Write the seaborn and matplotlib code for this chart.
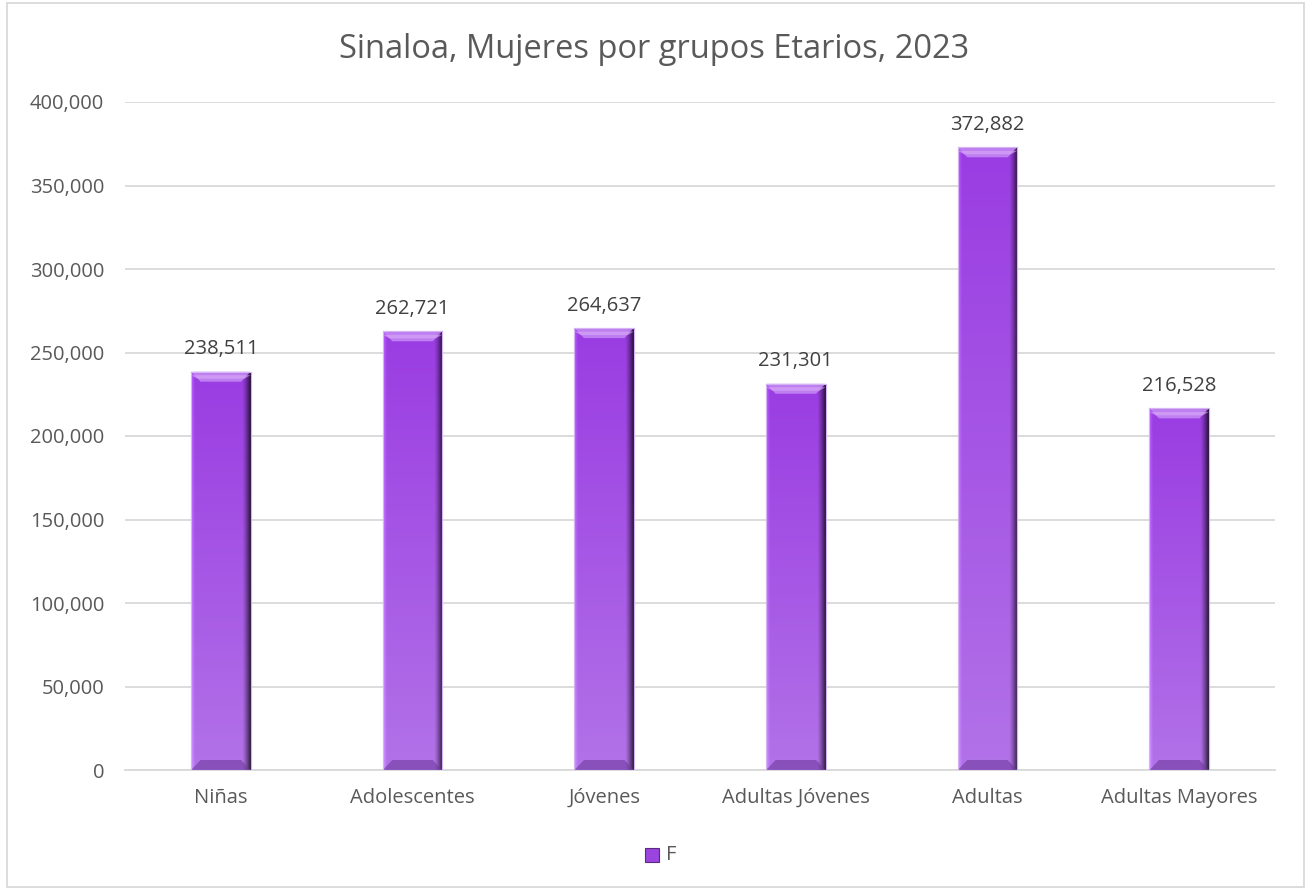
import numpy as np
import pandas as pd
import matplotlib
matplotlib.use('Agg')
import matplotlib.pyplot as plt
import seaborn as sns
from matplotlib.patches import Polygon, Rectangle

# Data
grupos = ['Niñas', 'Adolescentes', 'Jóvenes', 'Adultas Jóvenes', 'Adultas', 'Adultas Mayores']
mujeres = [238511, 262721, 264637, 231301, 372882, 216528]
serie = 'F'

df = pd.DataFrame({'grupo': grupos, 'valor': mujeres})

sns.set_theme(style='white')
plt.rcParams['font.family'] = ['Open Sans', 'DejaVu Sans']

W, H = 1309, 890
fig = plt.figure(figsize=(W / 100, H / 100), dpi=100)
ax = fig.add_axes([125 / W, 1 - 770 / H, 1150 / W, 668 / H])

sns.barplot(data=df, x='grupo', y='valor', color='#A24BE5', width=0.31,
            saturation=1, ax=ax, zorder=2, edgecolor='#D4B4F2', linewidth=0.8)

ax.set_ylim(0, 400000)
ax.set_xlim(-0.5, len(grupos) - 0.5)
ax.set_yticks(np.arange(0, 400001, 50000))
ax.yaxis.set_major_formatter(matplotlib.ticker.FuncFormatter(lambda v, p: f'{int(v):,}'))
ax.grid(axis='y', color='#D9D9D9', linewidth=1.3, zorder=0)
ax.set_axisbelow(True)
for s in ['left', 'right', 'top']:
    ax.spines[s].set_visible(False)
ax.spines['bottom'].set_color('#D9D9D9')
ax.spines['bottom'].set_linewidth(1.3)
ax.set_xlabel('')
ax.set_ylabel('')
ax.tick_params(axis='both', length=0, labelsize=14.5, colors='#595959')
ax.tick_params(axis='y', pad=15)
ax.tick_params(axis='x', pad=13)

# bevel look on each bar
px_y = 400000 / 668.0
top_c = np.array([0x9A, 0x3C, 0xE2]) / 255
bot_c = np.array([0xB2, 0x72, 0xE8]) / 255
for p in list(ax.patches):
    x0, w, h = p.get_x(), p.get_width(), p.get_height()
    rows, cols = 200, 60
    t = np.linspace(0, 1, rows)[:, None, None]
    img = top_c * (1 - t) + bot_c * t
    img = np.repeat(img, cols, axis=1)
    u = np.linspace(0, 1, cols)
    dark = np.clip((u - 0.86) / 0.14, 0, 1) ** 1.3 * 0.72
    light = np.clip((0.06 - u) / 0.06, 0, 1) * 0.12
    img = img * (1 - dark)[None, :, None] + light[None, :, None]
    img = np.clip(img, 0, 1)
    im = ax.imshow(img, extent=[x0, x0 + w, 0, h], aspect='auto', zorder=3,
                   interpolation='bilinear', origin='upper')
    im.set_clip_path(p)
    dx = w * 0.16
    dy = 10 * px_y
    ax.add_patch(Polygon([(x0, h), (x0 + w, h), (x0 + w - dx, h - dy), (x0 + dx, h - dy)],
                         closed=True, facecolor='#C890F4', alpha=0.8, edgecolor='none', zorder=4))
    ax.add_patch(Polygon([(x0, h - 0.35 * dy), (x0 + w, h - 0.35 * dy), (x0 + w - 0.65 * dx, h - 0.7 * dy),
                          (x0 + 0.65 * dx, h - 0.7 * dy)],
                         closed=True, facecolor='#D9ACF8', alpha=0.6, edgecolor='none', zorder=4))
    ax.add_patch(Polygon([(x0, 0), (x0 + w, 0), (x0 + w - dx, dy), (x0 + dx, dy)],
                         closed=True, facecolor='#6E3A9E', alpha=0.6, edgecolor='none', zorder=4))
    ax.add_patch(Rectangle((x0, 0), w, h, facecolor='none', edgecolor='#D4B4F2',
                           linewidth=0.8, zorder=5))

ax.bar_label(ax.containers[0], labels=[f'{v:,}' for v in mujeres], padding=9,
             fontsize=14.5, color='#404040', zorder=6)

fig.suptitle('Sinaloa, Mujeres por grupos Etarios, 2023', x=0.5, y=1 - 50 / H,
             va='center', fontsize=23.5, color='#595959')

# legend
hx, hy = 645 / W, 1 - 862 / H
fig.patches.append(Rectangle((hx, hy), 14 / W, 14 / H, transform=fig.transFigure,
                             facecolor='#9B45E0', edgecolor='#5A2A80', linewidth=0.8))
fig.text(666 / W, 1 - 855 / H, serie, va='center', ha='left', fontsize=14.5, color='#595959')

# outer frame
fig.patches.append(Rectangle((7 / W, 3 / H), 1297 / W, 884 / H, transform=fig.transFigure,
                             facecolor='none', edgecolor='#D9D9D9', linewidth=1.3))

fig.savefig('out.png', dpi=100)
